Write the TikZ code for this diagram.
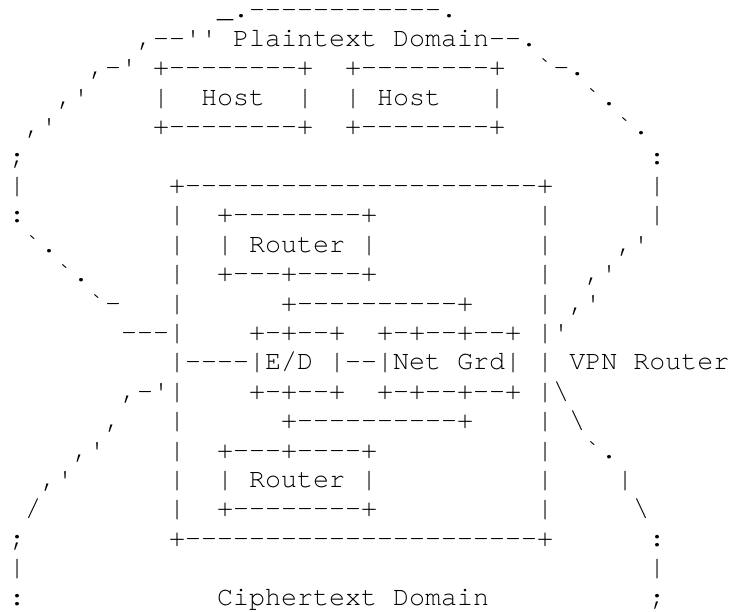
\documentclass[tikz,border=0pt]{standalone}
\usepackage{fontspec}
\setmonofont{TeX Gyre Cursor}

\begin{document}
\begin{tikzpicture}[x=16pt,y=-29.4pt,chr/.style={anchor=base west,inner sep=0pt,text height=16pt,text depth=5pt,font=\ttfamily\fontsize{26.67}{29.4}\selectfont}]
\useasboundingbox (-9pt,17pt) rectangle (722pt,-594pt);
% plaintext domain
\node[chr] (r1)  at (13,0) {\_.------------.};
\node[chr] (r2)  at (8,1)  {,--''~Plaintext~Domain--.};
\node[chr] (r3)  at (5,2)  {,-'~+--------+~~+--------+~~`-.};
\node[chr] (r4a) at (3,3)  {,'};
\node[chr] (r4b) at (9,3)  {|~~Host~~|~~|~Host~~~|};
\node[chr] (r4c) at (36,3) {`.};
\node[chr] (r5a) at (1,4)  {,'};
\node[chr] (r5b) at (9,4)  {+--------+~~+--------+};
\node[chr] (r5c) at (38,4) {`.};
\node[chr] (r6a) at (0,5)  {;};
\node[chr] (r6b) at (40,5) {:};
% vpn router
\node[chr] (r7a) at (0,6)  {|};
\node[chr] (r7b) at (10,6) {+----------------------+};
\node[chr] (r7c) at (40,6) {|};
\node[chr] (r8a) at (0,7)  {:};
\node[chr] (r8b) at (10,7) {|~~+--------+};
\node[chr] (r8c) at (33,7) {|};
\node[chr] (r8d) at (40,7) {|};
\node[chr] (r9a) at (1,8)  {`.};
\node[chr] (r9b) at (10,8) {|~~|~Router~|};
\node[chr] (r9c) at (33,8) {|};
\node[chr] (r9d) at (38,8) {,'};
\node[chr] (r10a) at (3,9)  {`.};
\node[chr] (r10b) at (10,9) {|~~+---+----+};
\node[chr] (r10c) at (33,9) {|};
\node[chr] (r10d) at (36,9) {,'};
\node[chr] (r11a) at (5,10)  {`-};
\node[chr] (r11b) at (10,10) {|};
\node[chr] (r11c) at (17,10) {+----------+};
\node[chr] (r11d) at (33,10) {|~,'};
\node[chr] (r12a) at (7,11)  {---|};
\node[chr] (r12b) at (15,11) {+-+--+~~+-+--+--+};
\node[chr] (r12c) at (33,11) {|'};
\node[chr] (r13)  at (10,12) {|----|E/D~|--|Net~Grd|~|~VPN~Router};
\node[chr] (r14a) at (7,13)  {,-'|};
\node[chr] (r14b) at (15,13) {+-+--+~~+-+--+--+};
\node[chr] (r14c) at (33,13) {|\textbackslash};
\node[chr] (r15a) at (6,14)  {,};
\node[chr] (r15b) at (10,14) {|};
\node[chr] (r15c) at (17,14) {+----------+};
\node[chr] (r15d) at (33,14) {|~\textbackslash};
\node[chr] (r16a) at (4,15)  {,'};
\node[chr] (r16b) at (10,15) {|~~+---+----+};
\node[chr] (r16c) at (33,15) {|};
\node[chr] (r16d) at (36,15) {`.};
\node[chr] (r17a) at (2,16)  {,'};
\node[chr] (r17b) at (10,16) {|~~|~Router~|};
\node[chr] (r17c) at (33,16) {|};
\node[chr] (r17d) at (38,16) {|};
\node[chr] (r18a) at (1,17)  {/};
\node[chr] (r18b) at (10,17) {|~~+--------+};
\node[chr] (r18c) at (33,17) {|};
\node[chr] (r18d) at (39,17) {\textbackslash};
\node[chr] (r19a) at (0,18)  {;};
\node[chr] (r19b) at (10,18) {+----------------------+};
\node[chr] (r19c) at (40,18) {:};
% ciphertext domain
\node[chr] (r20a) at (0,19)  {|};
\node[chr] (r20b) at (40,19) {|};
\node[chr] (r21a) at (0,20)  {:};
\node[chr] (r21b) at (13,20) {Ciphertext~Domain};
\node[chr] (r21c) at (40,20) {;};
\end{tikzpicture}
\end{document}
